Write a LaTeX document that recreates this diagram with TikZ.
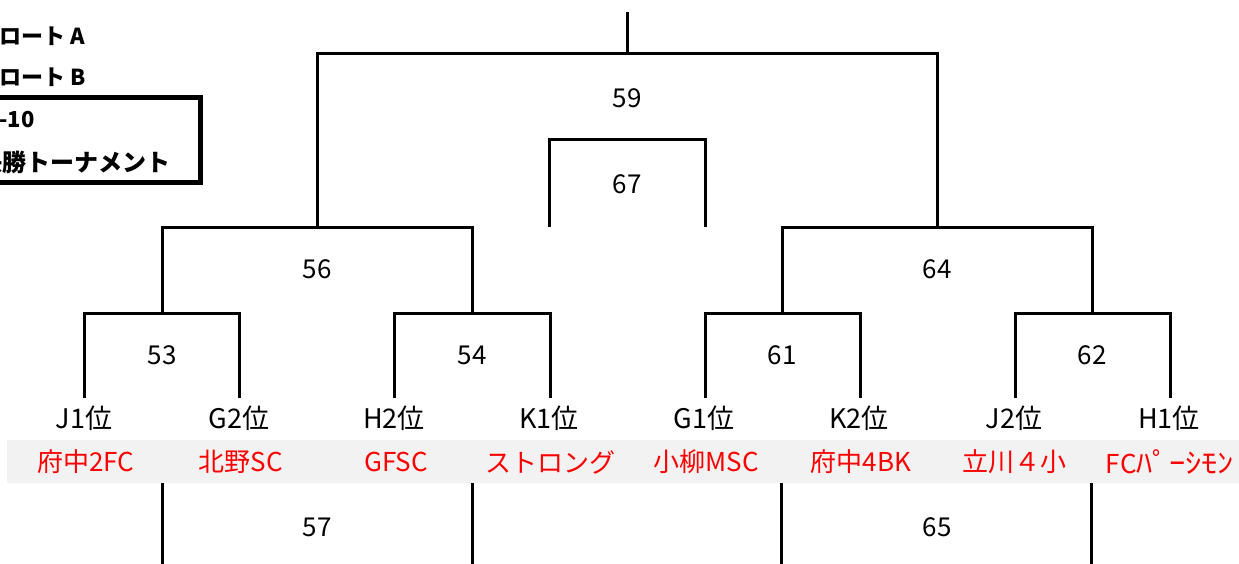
\documentclass[tikz,border=0pt]{standalone}
\usepackage{fontspec}
\usepackage{graphicx}
\setmainfont{Noto Sans CJK JP}
\definecolor{bandgray}{HTML}{F2F2F2}
\begin{document}
\begin{tikzpicture}[x=1pt,y=-1pt,
  br/.style={line width=3pt},
  num/.style={font=\fontsize{26}{26}\selectfont, inner sep=0pt},
  rank/.style={font=\fontsize{27}{27}\selectfont, inner sep=0pt},
  team/.style={font=\fontsize{26}{26}\selectfont, text=red, inner sep=0pt},
  leg/.style={font=\bfseries\fontsize{22}{22}\selectfont, inner sep=0pt},
  legbig/.style={font=\bfseries\fontsize{24}{24}\selectfont, inner sep=0pt}]
\useasboundingbox (0,0) rectangle (1239,564);
\clip (0,0) rectangle (1239,564);
% band
\fill[bandgray] (7,440) rectangle (1239,483);
% coordinates
\foreach \n/\x in {1/84,2/239,3/394,4/550,5/705,6/860,7/1015,8/1170}{
  \coordinate (leaf\n) at (\x,398);
}
\coordinate (m53) at (162,313);
\coordinate (m54) at (472,313);
\coordinate (m61) at (782,313);
\coordinate (m62) at (1092,313);
\coordinate (m56) at (317,227);
\coordinate (m64) at (937,227);
\coordinate (m59) at (627,54);
\coordinate (top) at (627,12);
\coordinate (c67a) at (549,227);
\coordinate (c67t) at (627,140);
\coordinate (c67b) at (705,227);
% brackets
\draw[br] (leaf1) |- (m53) -| (leaf2);
\draw[br] (leaf3) |- (m54) -| (leaf4);
\draw[br] (leaf5) |- (m61) -| (leaf6);
\draw[br] (leaf7) |- (m62) -| (leaf8);
\draw[br] (m53) |- (m56) -| (m54);
\draw[br] (m61) |- (m64) -| (m62);
\draw[br] (m56) |- (m59) -| (m64);
\draw[br] (m59) -- (top);
\draw[br] (c67a) |- (c67t) -| (c67b);
% bottom stubs
\foreach \x/\n in {162/a,472/b,781/c,1091/d}{
  \coordinate (bs\n) at (\x,483);
  \coordinate (be\n) at (\x,566);
  \draw[br] (bs\n) -- (be\n);
}
% numbers
\node[num] (n59) at (627,98) {59};
\node[num] (n67) at (627,184) {67};
\node[num] (n56) at (317,269) {56};
\node[num] (n64) at (937,269) {64};
\node[num] (n53) at (162,355) {53};
\node[num] (n54) at (472,355) {54};
\node[num] (n61) at (782,355) {61};
\node[num] (n62) at (1092,355) {62};
\node[num] (n57) at (317,527) {57};
\node[num] (n65) at (937,527) {65};
% ranks
\node[rank] (r1) at (84,418) {J1位};
\node[rank] (r2) at (239,418) {G2位};
\node[rank] (r3) at (394,418) {H2位};
\node[rank] (r4) at (549,418) {K1位};
\node[rank] (r5) at (704,418) {G1位};
\node[rank] (r6) at (859,418) {K2位};
\node[rank] (r7) at (1014,418) {J2位};
\node[rank] (r8) at (1169,418) {H1位};
% teams
\node[team] (t1) at (86,462) {府中2FC};
\node[team] (t2) at (241,462) {北野SC};
\node[team] (t3) at (396,462) {GFSC};
\node[team] (t4) at (550,462) {ストロング};
\node[team] (t5) at (706,462) {小柳MSC};
\node[team] (t6) at (861,462) {府中4BK};
\node[team] (t7) at (1014,462) {立川４小};
\node[team] (t8) at (1170,462) {FC\scalebox{1.25}[1.08]{ﾊﾟｰｼﾓﾝ}};
% legend
\node[leg, anchor=west] (la) at (-1,36) {ロート A};
\node[leg, anchor=west] (lb) at (-1,77) {ロート B};
\draw[line width=5pt] (-20,97.5) rectangle (200.5,182.5);
\node[leg, anchor=west] (lc) at (-1,120) {-10};
\node[legbig, anchor=east] (ld) at (171,162) {決勝トーナメント};
\end{tikzpicture}
\end{document}
